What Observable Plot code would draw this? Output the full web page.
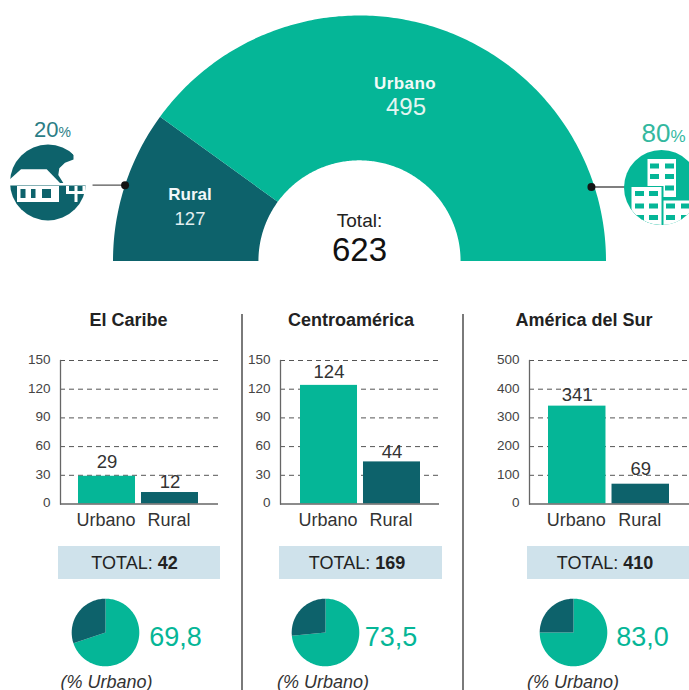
<!DOCTYPE html>
<html lang="es">
<head>
<meta charset="utf-8">
<script src="https://cdn.jsdelivr.net/npm/d3@7"></script>
<script src="https://cdn.jsdelivr.net/npm/@observablehq/plot@0.6"></script>
<style>
  html, body { margin: 0; padding: 0; background: #fff; }
  #page { position: relative; width: 689px; height: 690px; overflow: hidden; background: #fff;
          font-family: "Liberation Sans", Arial, sans-serif; }
  #page > svg, #page > div { position: absolute; }
  .lbl { white-space: nowrap; line-height: 1; transform: translate(-50%, -50%); }
</style>
</head>
<body>
<div id="page"></div>
<script>
// ---- values ----
const sectors = ["Rural", "Urbano"];
const sectorValues = [127, 495];
const grandTotal = 623;
const sharePercent = [20, 80];

const regions = ["El Caribe", "Centroamérica", "América del Sur"];
const categories = ["Urbano", "Rural"];
const urbanValues = [29, 124, 341];
const ruralValues = [12, 44, 69];
const regionTotals = [42, 169, 410];
const urbanPercent = ["69,8", "73,5", "83,0"];
const pieDrawnShare = [69.8, 73.5, 75]; // the third pie is drawn as a 75 % slice in the reference
const yTicks = [
  [0, 30, 60, 90, 120, 150],
  [0, 30, 60, 90, 120, 150],
  [0, 100, 200, 300, 400, 500]
];

// ---- styling and layout ----
const GREEN = "#05B697", DARK = "#0D626B";
const page = document.getElementById("page");
const layouts = [
  {left: 0,   width: 225, axis: 60,  end: 218, bars: [78, 198],  title: 128.5, totalBox: [58, 220],  totalX: 134.5, pie: 105,   pct: 175.5, cap: 106.5, lift: [14, 10]},
  {left: 243, width: 196, axis: 280, end: 439, bars: [300, 420], title: 351, totalBox: [279, 442], totalX: 357,   pie: 325,   pct: 391,   cap: 323, lift: [13, 10]},
  {left: 470, width: 219, axis: 529, end: 689, bars: [548, 669], title: 584, totalBox: [527, 689], totalX: 605,   pie: 573,   pct: 642.5, cap: 573, lift: [11, 15]}
];

function label(html, x, y, css) {
  const d = document.createElement("div");
  d.className = "lbl";
  d.innerHTML = html;
  d.style.cssText = `left:${x}px;top:${y}px;${css}`;
  page.appendChild(d);
  return d;
}
function place(svg, left, top) {
  svg.style.left = left + "px";
  svg.style.top = top + "px";
  svg.style.background = "transparent";
  page.appendChild(svg);
}

// ---- half-donut: sector angles come from the printed shares ----
const R0 = 0.41;
function sectorPts(name, a0, a1) {
  const n = Math.max(2, Math.ceil((a1 - a0) * 80));
  const pts = [];
  for (let i = 0; i <= n; i++) { const a = a0 + (a1 - a0) * i / n; pts.push({name, x: -Math.cos(a), y: Math.sin(a)}); }
  for (let i = n; i >= 0; i--) { const a = a0 + (a1 - a0) * i / n; pts.push({name, x: -R0 * Math.cos(a), y: R0 * Math.sin(a)}); }
  return pts;
}
const ruralEnd = Math.PI * sharePercent[0] / 100;
const gaugePts = [...sectorPts(sectors[0], 0, ruralEnd), ...sectorPts(sectors[1], ruralEnd, Math.PI)];
const dots = [
  {x: -Math.cos(ruralEnd / 2), y: Math.sin(ruralEnd / 2)},
  {x: 0.988 * Math.cos(0.31), y: 0.988 * Math.sin(0.31)}
];
const links = [
  {x1: dots[0].x, x2: -1.083, y: dots[0].y},
  {x1: dots[1].x, x2: 1.079, y: dots[1].y}
];
place(Plot.plot({
  width: 689, height: 290, margin: 0,
  x: {domain: [-1, 1], range: [112.5, 605.5]},
  y: {domain: [0, 1], range: [260.5, 15]},
  color: {domain: sectors, range: [DARK, GREEN]},
  axis: null,
  marks: [
    Plot.line(gaugePts, {x: "x", y: "y", z: "name", fill: "name", stroke: null}),
    Plot.link(links, {x1: "x1", x2: "x2", y1: "y", y2: "y", stroke: "#555", strokeWidth: 1.3}),
    Plot.dot(dots, {x: "x", y: "y", r: 4, fill: "#141414", stroke: null})
  ]
}), 0, 0);

label(sectors[1], 405, 83, "font-size:17px;font-weight:700;color:#f2faf8;letter-spacing:.4px");
label(sectorValues[1], 406, 107, "font-size:24px;color:#e4f5f1");
label(sectors[0], 190, 193.5, "font-size:17px;font-weight:700;color:#f2f7f8");
label(sectorValues[0], 190, 219, "font-size:18.5px;color:#e2eef0");
label("Total:", 359.5, 220, "font-size:19px;color:#222");
label(grandTotal, 359.5, 249, "font-size:33px;color:#111");
label(`${sharePercent[0]}<span style="font-size:14px">%</span>`, 52.5, 130, "font-size:22px;color:#2b7d85");
label(`${sharePercent[1]}<span style="font-size:17px">%</span>`, 663.5, 133, "font-size:26px;color:#33b89f");

// ---- pictograms (illustrations, not data) ----
const NS = "http://www.w3.org/2000/svg";
const icons = document.createElementNS(NS, "svg");
icons.setAttribute("width", 689); icons.setAttribute("height", 240);
icons.style.cssText = "left:0;top:0";
const win = (xs, ys) => xs.flatMap(x => ys.map(y => `<rect x="${x}" y="${y}" width="9" height="5" fill="${GREEN}"/>`)).join("");
icons.innerHTML = `
  <circle cx="48" cy="182.5" r="38" fill="${DARK}"/>
  <path d="M73.5,155 V159.5 L65,162.7 L59.3,168.3 L58.3,175 L63.3,183 H92 V140 H66 L70,150 Z" fill="#fff"/>
  <path d="M8,181 L21,169.3 H46.7 L60,183 H8 Z" fill="#fff"/>
  <rect x="8" y="183" width="80" height="2.5" fill="#fff"/>
  <rect x="17" y="186" width="42" height="16" fill="#fff"/>
  <rect x="20.5" y="189" width="5" height="9" fill="${DARK}"/>
  <rect x="31" y="189" width="4.5" height="9" fill="${DARK}"/>
  <rect x="42" y="189" width="9" height="9" fill="${DARK}"/>
  <rect x="51" y="186" width="3" height="12" fill="#fff"/>
  <path d="M67.5,186 V192.5 H76 M84,186 V192.5 H76 M76,186 V202" fill="none" stroke="#fff" stroke-width="3"/>
  <clipPath id="cityClip"><circle cx="661.5" cy="187.5" r="37.5"/></clipPath>
  <circle cx="661.5" cy="187.5" r="37.5" fill="${GREEN}"/>
  <g clip-path="url(#cityClip)">
    <rect x="647.5" y="159" width="28.5" height="38" fill="#fff"/>
    ${win([650, 665], [163.5, 174])}<rect x="665" y="185.5" width="9" height="5" fill="${GREEN}"/>
    <rect x="630" y="186" width="33.5" height="45" fill="${GREEN}"/>
    <rect x="631.5" y="187" width="30" height="40" fill="#fff"/>
    ${win([635, 649], [191, 203.5, 215])}
    <rect x="663.5" y="200.5" width="30" height="30" fill="#fff"/>
    ${win([666, 681], [203.5, 215])}
  </g>`;
page.appendChild(icons);

// ---- region panels ----
regions.forEach((region, i) => {
  const L = layouts[i];
  const rows = categories.map((c, k) => ({cat: c, value: [urbanValues, ruralValues][k][i], lift: L.lift[k]}));
  const top = 340, h = 200, mTop = 20, mBottom = 36.5;
  place(Plot.plot({
    width: L.end - L.left, height: h,
    marginLeft: L.axis - L.left, marginRight: 0, marginTop: mTop, marginBottom: mBottom,
    style: {fontFamily: '"Liberation Sans", Arial, sans-serif', overflow: "visible"},
    x: {domain: categories, range: L.bars.map(b => b - L.left), paddingInner: 0.095, paddingOuter: 0, round: false, label: null},
    y: {domain: [0, yTicks[i][5]], label: null},
    color: {domain: categories, range: [GREEN, DARK]},
    marks: [
      Plot.gridY(yTicks[i].slice(1), {stroke: "#555", strokeOpacity: 1, strokeDasharray: "5 4"}),
      Plot.barY(rows, {x: "cat", y: "value", fill: "cat"}),
      Plot.frame({anchor: "left", stroke: "#666", strokeWidth: 1.3}),
      Plot.ruleY([0], {stroke: "#666", strokeWidth: 1.5}),
      Plot.axisY(yTicks[i], {tickSize: 0, tickPadding: 10, fontSize: 13.5, fill: "#444", label: null, dy: -1}),
      Plot.axisX({tickSize: 0, tickPadding: 9, fontSize: 18, fill: "#333", label: null, dx: -1}),
      ...rows.map(r => Plot.text([r], {x: "cat", y: "value", text: d => String(d.value), dy: -r.lift, fontSize: 18.5, fill: "#333"}))
    ]
  }), L.left, top);

  label(region, L.title, 320, "font-size:18px;font-weight:700;color:#222");
  const box = document.createElement("div");
  box.style.cssText = `left:${L.totalBox[0]}px;top:546px;width:${L.totalBox[1] - L.totalBox[0]}px;height:33px;background:#CFE2EB`;
  page.appendChild(box);
  label(`TOTAL: <b>${regionTotals[i]}</b>`, L.totalX, 562.5, "font-size:18px;color:#222");

  // pie: slice angles from the share
  const cut = 2 * Math.PI * pieDrawnShare[i] / 100;
  const arc = (name, a0, a1) => {
    const n = Math.ceil((a1 - a0) * 30) + 1, pts = [{name, x: 0, y: 0}];
    for (let k = 0; k <= n; k++) { const a = a0 + (a1 - a0) * k / n; pts.push({name, x: Math.sin(a), y: Math.cos(a)}); }
    return pts;
  };
  place(Plot.plot({
    width: 72, height: 72, margin: 0, axis: null,
    x: {domain: [-1, 1], range: [2.2, 69.8]},
    y: {domain: [-1, 1], range: [69.8, 2.2]},
    color: {domain: categories, range: [GREEN, DARK]},
    marks: [
      Plot.line([...arc(categories[0], 0, cut), ...arc(categories[1], cut, 2 * Math.PI)],
        {x: "x", y: "y", z: "name", fill: "name", stroke: null})
    ]
  }), L.pie - 36, 596);

  label(urbanPercent[i], L.pct, 636.7, `font-size:27px;color:${GREEN}`);
  label("(% Urbano)", L.cap, 681.5, "font-size:18px;font-style:italic;color:#333");
});

// ---- dividers ----
[241, 461.5].forEach(x => {
  const d = document.createElement("div");
  d.style.cssText = `left:${x}px;top:314px;width:2px;height:376px;background:#7a7a7a`;
  page.appendChild(d);
});
</script>
</body>
</html>
